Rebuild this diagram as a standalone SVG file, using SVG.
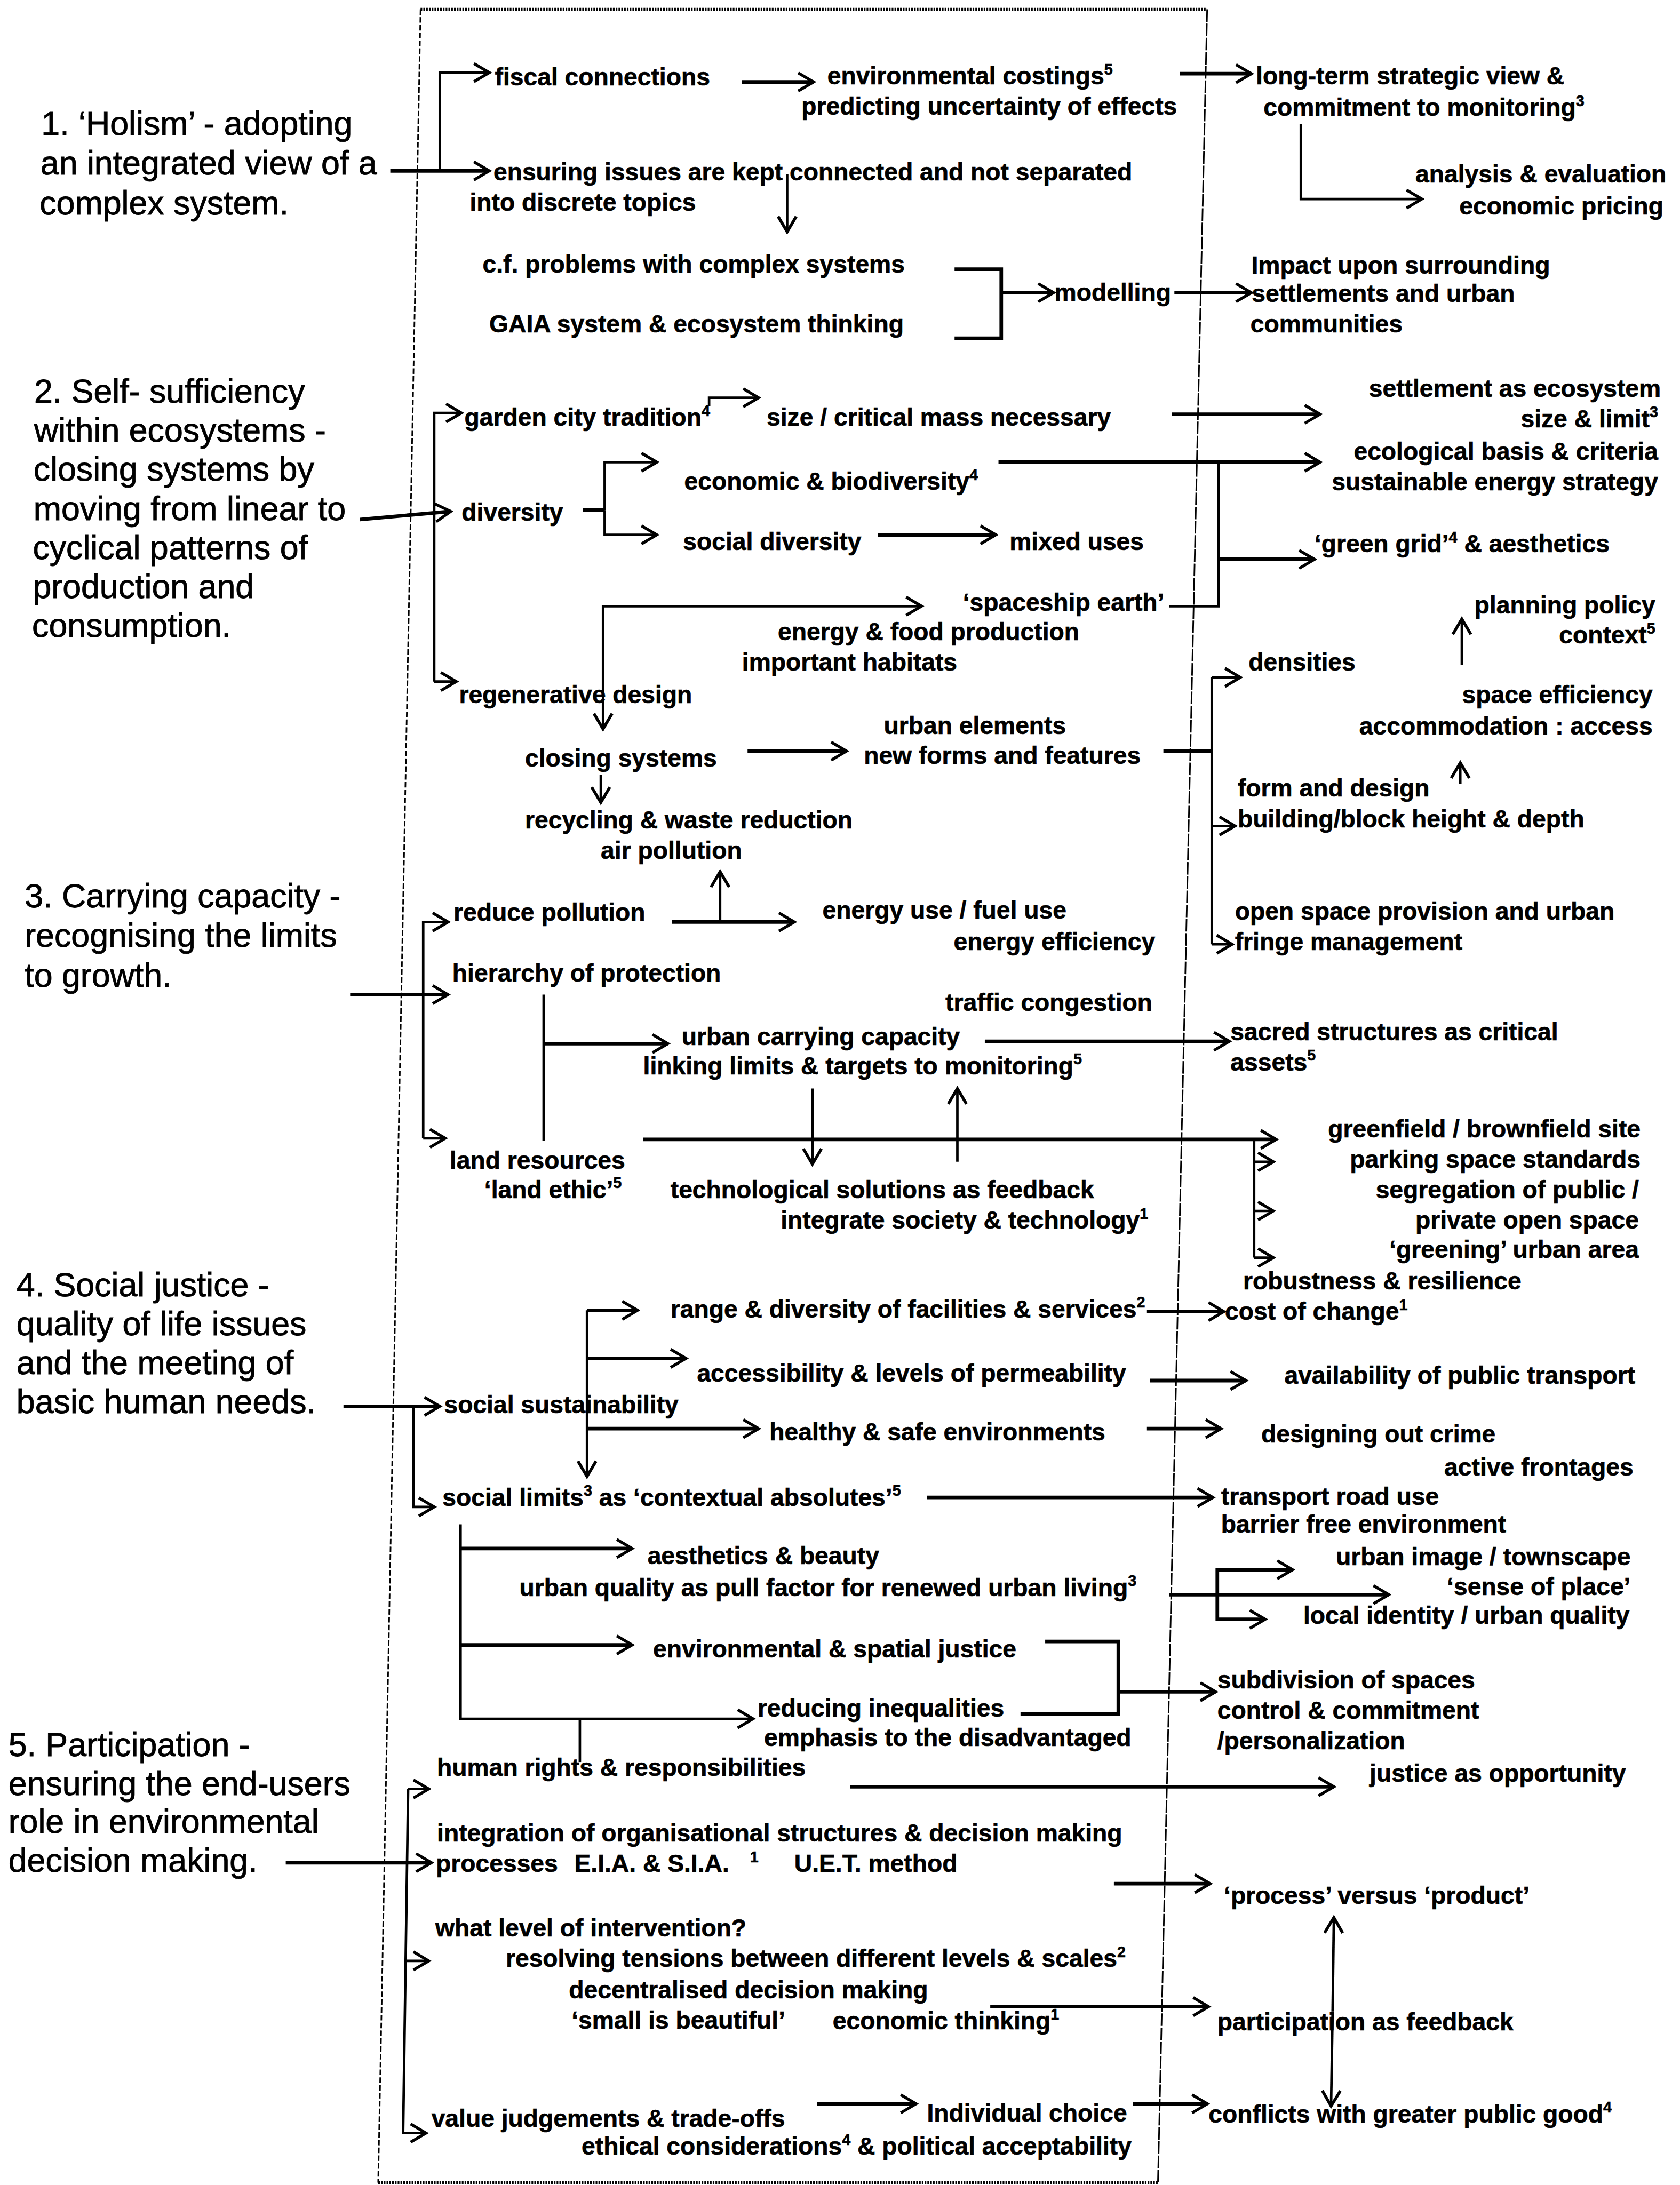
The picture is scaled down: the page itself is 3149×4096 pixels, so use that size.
<svg xmlns="http://www.w3.org/2000/svg" width="3149" height="4096" viewBox="0 0 3149 4096">
<style>
.t{font-family:"Liberation Sans",Arial,Helvetica,sans-serif;font-weight:bold;font-size:17.7px;fill:#000;stroke:#000;stroke-width:0.25}
.lb{font-family:"Liberation Sans",Arial,Helvetica,sans-serif;font-size:24px;fill:#000;stroke:#000;stroke-width:0.35}
.e{text-anchor:end}
.s{font-size:11px}
.k{fill:none;stroke:#000;stroke-width:2.6}
.v{fill:none;stroke:#000;stroke-width:1.8}
.ar{marker-end:url(#a)}
.dot{fill:none;stroke:#000;stroke-width:2.2;stroke-dasharray:1.2 0.8}
.side{fill:none;stroke:#000;stroke-width:1.1;stroke-dasharray:4 1.6}
.side2{fill:none;stroke:#000;stroke-width:1.1;stroke-dasharray:9 1.2}
</style>
<defs>
<marker id="a" viewBox="-13 -8 15 16" refX="0" refY="0" markerWidth="15" markerHeight="16" markerUnits="userSpaceOnUse" orient="auto">
<path d="M-11,-6.5 L0,0 L-11,6.5" fill="none" stroke="#000" stroke-width="2.1"/>
</marker>
</defs>
<rect width="3149" height="4096" fill="#fff"/>
<g transform="scale(2.6128)">

<!-- central frame -->
<g id="frame">
<path class="dot" d="M301.7,6.7 H866"/>
<path class="dot" d="M271.3,1566 H830.7"/>
<path class="side" d="M301.7,6.7 L271.3,1566"/>
<path class="side2" d="M866,6.7 L830.7,1566"/>
</g>

<g id="connectors">
<!-- 1 holism -->
<path class="k ar" d="M280,122.6 H351"/>
<path class="v ar" d="M315.5,122.6 V52.1 H351"/>
<path class="k ar" d="M532.3,58.8 H583.6"/>
<path class="k ar" d="M846.5,52.9 H897.7"/>
<path class="v ar" d="M933.2,89 V142.8 H1020"/>
<path class="v ar" d="M564.7,125 V166.3"/>
<path class="k" d="M684.8,193.1 H718.3 V242.7 H684.8"/>
<path class="k ar" d="M718.3,210 H755.8"/>
<path class="k ar" d="M842.5,210 H897.7"/>
<!-- 2 self-sufficiency -->
<path class="k ar" d="M258.3,372.7 L323.3,366.9"/>
<path class="v ar" d="M311.5,489 V296.3 H331"/>
<path class="v ar" d="M311.5,489 H327.3"/>
<path class="v ar" d="M508.7,291.3 V285.4 H544.2"/>
<path class="k ar" d="M840.5,297.2 H947"/>
<path class="k" d="M418,366 H433.8"/>
<path class="v ar" d="M433.8,366 V331.6 H471.2"/>
<path class="v ar" d="M433.8,366 V383.7 H471.2"/>
<path class="k ar" d="M716.3,331.6 H947"/>
<path class="k ar" d="M629.6,383.7 H714.4"/>
<path class="v" d="M838.6,434.9 H874.1 V331.6"/>
<path class="k ar" d="M874.1,401.3 H943"/>
<path class="v ar" d="M432.6,490 V434.9 H661.1"/>
<path class="v ar" d="M432.6,490 V523"/>
<path class="k ar" d="M536.3,538.9 H607.3"/>
<path class="v ar" d="M431,556 V575.8"/>
<path class="k" d="M834.6,538.9 H869.3"/>
<path class="v" d="M869.3,486 V677.5"/>
<path class="v ar" d="M869.3,486 H889.8"/>
<path class="v ar" d="M869.3,592.6 H885.9"/>
<path class="v ar" d="M869.3,677.5 H883.9"/>
<path class="v ar" d="M1048.7,476.9 V444.1"/>
<path class="v ar" d="M1047.6,562.4 V547.3"/>
<!-- 3 carrying capacity -->
<path class="k ar" d="M251.2,713.6 H321.4"/>
<path class="v ar" d="M303.6,816.7 V661.5 H321.4"/>
<path class="v ar" d="M303.6,816.7 H319.4"/>
<path class="k ar" d="M481.9,661.5 H569.8"/>
<path class="v ar" d="M516.6,661.5 V625.4"/>
<path class="v" d="M390,713.6 V818.4"/>
<path class="k ar" d="M390,748.8 H479.1"/>
<path class="k ar" d="M706.5,747.1 H881.9"/>
<path class="v ar" d="M582.8,781 V835.2"/>
<path class="v ar" d="M686.8,833.5 V781"/>
<path class="k ar" d="M461.4,817.5 H915.5"/>
<path class="v" d="M899.7,817.5 V902.3"/>
<path class="v ar" d="M899.7,833.5 H913.5"/>
<path class="v ar" d="M899.7,868.8 H913.5"/>
<path class="v ar" d="M899.7,902.3 H913.5"/>
<!-- 4 social justice -->
<path class="k ar" d="M246.4,1009 H315.5"/>
<path class="v ar" d="M296.5,1009 V1081.2 H311.5"/>
<path class="v ar" d="M421.1,940.1 V1059.3"/>
<path class="k ar" d="M421.1,940.1 H457.4"/>
<path class="k ar" d="M421.1,974.6 H492.1"/>
<path class="k ar" d="M421.1,1025 H544.2"/>
<path class="k ar" d="M822.8,941 H878"/>
<path class="k ar" d="M824.8,990.5 H893.8"/>
<path class="k ar" d="M822.8,1025 H876"/>
<path class="k ar" d="M665.1,1074.4 H870.1"/>
<path class="v ar" d="M330.4,1093.7 V1233.2 H540.2"/>
<path class="k ar" d="M330.4,1111 H453.5"/>
<path class="k ar" d="M330.4,1180.2 H453.5"/>
<path class="k ar" d="M838.6,1144.1 H996.3"/>
<path class="k ar" d="M873.3,1144.1 V1126.2 H927.3"/>
<path class="k ar" d="M873.3,1144.1 V1161.8 H907.6"/>
<path class="k" d="M749.8,1177.7 H802.3 V1229.8 H732.1"/>
<path class="k ar" d="M802.3,1213.8 H872.1"/>
<path class="v" d="M416,1233.2 V1264.2"/>
<path class="k ar" d="M609.9,1281.9 H956.9"/>
<!-- 5 participation -->
<path class="v ar" d="M292.8,1283.5 H307.6"/>
<path class="v ar" d="M292.8,1283.5 L289.2,1530.4 H305.6"/>
<path class="v ar" d="M291,1406.9 H307.6"/>
<path class="k ar" d="M205,1336.4 H309.5"/>
<path class="k ar" d="M799.1,1351.5 H868.1"/>
<path class="k ar" d="M710.4,1439.7 H867"/>
<path class="v ar" d="M956,1443 L956.9,1375.8"/>
<path class="v ar" d="M956,1443 L954.9,1511"/>
<path class="k ar" d="M586.2,1509.4 H657.2"/>
<path class="k ar" d="M812.9,1509.4 H866.2"/>
</g>

<!-- principle labels, left column -->
<g id="principle-1">
<text class="lb" x="29.6" y="97">1. ‘Holism’ - adopting</text>
<text class="lb" x="29" y="125">an integrated view of a</text>
<text class="lb" x="28.4" y="154">complex system.</text>
</g>
<g id="principle-2">
<text class="lb" x="24.5" y="289">2. Self- sufficiency</text>
<text class="lb" x="24.5" y="317">within ecosystems -</text>
<text class="lb" x="24" y="345">closing systems by</text>
<text class="lb" x="24" y="373">moving from linear to</text>
<text class="lb" x="23.5" y="401">cyclical patterns of</text>
<text class="lb" x="23.5" y="429">production and</text>
<text class="lb" x="23" y="457">consumption.</text>
</g>
<g id="principle-3">
<text class="lb" x="17.7" y="651">3. Carrying capacity -</text>
<text class="lb" x="17.7" y="679.5">recognising the limits</text>
<text class="lb" x="17.7" y="708">to growth.</text>
</g>
<g id="principle-4">
<text class="lb" x="11.8" y="930">4. Social justice -</text>
<text class="lb" x="11.8" y="958">quality of life issues</text>
<text class="lb" x="11.8" y="986">and the meeting of</text>
<text class="lb" x="11.8" y="1014">basic human needs.</text>
</g>
<g id="principle-5">
<text class="lb" x="6" y="1260">5. Participation -</text>
<text class="lb" x="6" y="1288">ensuring the end-users</text>
<text class="lb" x="6" y="1315">role in environmental</text>
<text class="lb" x="6" y="1343">decision making.</text>
</g>

<!-- 1. holism -->
<g id="fiscal"><text class="t" x="355" y="61.3">fiscal connections</text></g>
<g id="costings">
<text class="t" x="593.5" y="60.5">environmental costings<tspan class="s" dy="-7">5</tspan></text>
<text class="t" x="575" y="82.3">predicting uncertainty of effects</text>
</g>
<g id="long-term">
<text class="t" x="901" y="60.5">long-term strategic view &amp;</text>
<text class="t" x="906.4" y="83">commitment to monitoring<tspan class="s" dy="-7">3</tspan></text>
</g>
<g id="analysis">
<text class="t e" x="1195.4" y="131">analysis &amp; evaluation</text>
<text class="t e" x="1193.4" y="153.7">economic pricing</text>
</g>
<g id="connected">
<text class="t" x="354" y="129.3">ensuring issues are kept connected and not separated</text>
<text class="t" x="337" y="151">into discrete topics</text>
</g>
<g id="complex"><text class="t" x="346.2" y="195.7">c.f. problems with complex systems</text></g>
<g id="gaia"><text class="t" x="351" y="238.5">GAIA system &amp; ecosystem thinking</text></g>
<g id="modelling"><text class="t" x="756.5" y="215.8">modelling</text></g>
<g id="impact">
<text class="t" x="897.7" y="196.5">Impact upon surrounding</text>
<text class="t" x="898" y="216.7">settlements and urban</text>
<text class="t" x="897" y="238.5">communities</text>
</g>

<!-- 2. self-sufficiency -->
<g id="garden-city"><text class="t" x="333.2" y="305.5">garden city tradition<tspan class="s" dy="-7">4</tspan></text></g>
<g id="critical-mass"><text class="t" x="550" y="305.5">size / critical mass necessary</text></g>
<g id="ecosystem">
<text class="t e" x="1191.5" y="284.6">settlement as ecosystem</text>
<text class="t e" x="1189.5" y="306.4">size &amp; limit<tspan class="s" dy="-7">3</tspan></text>
<text class="t e" x="1189.5" y="330">ecological basis &amp; criteria</text>
<text class="t e" x="1189.5" y="351.7">sustainable energy strategy</text>
</g>
<g id="diversity"><text class="t" x="331.2" y="373.6">diversity</text></g>
<g id="biodiversity"><text class="t" x="490.9" y="351.5">economic &amp; biodiversity<tspan class="s" dy="-7">4</tspan></text></g>
<g id="social-diversity"><text class="t" x="490" y="394.6">social diversity</text></g>
<g id="mixed-uses"><text class="t" x="724.2" y="394.6">mixed uses</text></g>
<g id="green-grid"><text class="t" x="943" y="396.3">‘green grid’<tspan class="s" dy="-7">4</tspan><tspan dy="7"> &amp; aesthetics</tspan></text></g>
<g id="spaceship">
<text class="t" x="690.7" y="438.2">‘spaceship earth’</text>
<text class="t" x="558" y="459.2">energy &amp; food production</text>
<text class="t" x="532.3" y="481">important habitats</text>
</g>
<g id="regenerative"><text class="t" x="329.3" y="504.6">regenerative design</text></g>
<g id="planning-policy">
<text class="t e" x="1187.5" y="440">planning policy</text>
<text class="t e" x="1187.5" y="461.7">context<tspan class="s" dy="-7">5</tspan></text>
</g>
<g id="densities"><text class="t" x="895.7" y="481">densities</text></g>
<g id="space-efficiency">
<text class="t e" x="1185.6" y="504.6">space efficiency</text>
<text class="t e" x="1185.6" y="527">accommodation : access</text>
</g>
<g id="closing"><text class="t" x="376.6" y="549.8">closing systems</text></g>
<g id="urban-elements">
<text class="t" x="634" y="526.5">urban elements</text>
<text class="t" x="619.7" y="548.1">new forms and features</text>
</g>
<g id="form-design">
<text class="t" x="887.9" y="571.6">form and design</text>
<text class="t" x="887.9" y="593.5">building/block height &amp; depth</text>
</g>
<g id="recycling">
<text class="t" x="376.6" y="594.3">recycling &amp; waste reduction</text>
<text class="t" x="431" y="616.2">air pollution</text>
</g>
<g id="open-space">
<text class="t" x="885.9" y="659.8">open space provision and urban</text>
<text class="t" x="885.9" y="681.7">fringe management</text>
</g>

<!-- 3. carrying capacity -->
<g id="reduce-pollution"><text class="t" x="325.3" y="660.7">reduce pollution</text></g>
<g id="energy-use">
<text class="t" x="590" y="659">energy use / fuel use</text>
<text class="t e" x="828.7" y="681.7">energy efficiency</text>
</g>
<g id="hierarchy"><text class="t" x="324.5" y="704.3">hierarchy of protection</text></g>
<g id="traffic"><text class="t e" x="826.7" y="725.3">traffic congestion</text></g>
<g id="urban-capacity">
<text class="t" x="489" y="749.7">urban carrying capacity</text>
<text class="t" x="461.4" y="770.7">linking limits &amp; targets to monitoring<tspan class="s" dy="-7">5</tspan></text>
</g>
<g id="sacred">
<text class="t" x="882.7" y="746.3">sacred structures as critical</text>
<text class="t" x="882.7" y="768">assets<tspan class="s" dy="-7">5</tspan></text>
</g>
<g id="land-resources">
<text class="t" x="322.6" y="838.5">land resources</text>
<text class="t e" x="446" y="859.5">‘land ethic’<tspan class="s" dy="-7">5</tspan></text>
</g>
<g id="technology">
<text class="t" x="481" y="859.5">technological solutions as feedback</text>
<text class="t" x="560" y="881.4">integrate society &amp; technology<tspan class="s" dy="-7">1</tspan></text>
</g>
<g id="sites">
<text class="t e" x="1176.9" y="815.8">greenfield / brownfield site</text>
<text class="t e" x="1176.9" y="837.7">parking space standards</text>
<text class="t e" x="1175.7" y="859.5">segregation of public /</text>
<text class="t e" x="1175.7" y="881.4">private open space</text>
<text class="t e" x="1175.7" y="902.3">‘greening’ urban area</text>
<text class="t" x="891.8" y="925">robustness &amp; resilience</text>
</g>

<!-- 4. social justice -->
<g id="facilities"><text class="t" x="481" y="945.2">range &amp; diversity of facilities &amp; services<tspan class="s" dy="-7">2</tspan></text></g>
<g id="cost-of-change"><text class="t" x="878.8" y="946.9">cost of change<tspan class="s" dy="-7">1</tspan></text></g>
<g id="permeability"><text class="t" x="500" y="991.4">accessibility &amp; levels of permeability</text></g>
<g id="public-transport"><text class="t" x="921.4" y="993">availability of public transport</text></g>
<g id="social-sustainability"><text class="t" x="318.6" y="1014">social sustainability</text></g>
<g id="healthy"><text class="t" x="552" y="1033.3">healthy &amp; safe environments</text></g>
<g id="crime">
<text class="t" x="904.8" y="1035">designing out crime</text>
<text class="t e" x="1171.8" y="1058.5">active frontages</text>
</g>
<g id="social-limits"><text class="t" x="317.4" y="1080.3">social limits<tspan class="s" dy="-7">3</tspan><tspan dy="7"> as ‘contextual absolutes’</tspan><tspan class="s" dy="-7">5</tspan></text></g>
<g id="transport">
<text class="t" x="876" y="1079.5">transport road use</text>
<text class="t" x="876" y="1099.6">barrier free environment</text>
</g>
<g id="aesthetics">
<text class="t" x="464.5" y="1122.3">aesthetics &amp; beauty</text>
<text class="t" x="372.6" y="1145">urban quality as pull factor for renewed urban living<tspan class="s" dy="-7">3</tspan></text>
</g>
<g id="townscape">
<text class="t e" x="1169.8" y="1123.1">urban image / townscape</text>
<text class="t e" x="1169.8" y="1144.2">‘sense of place’</text>
<text class="t e" x="1169" y="1165.1">local identity / urban quality</text>
</g>
<g id="spatial-justice"><text class="t" x="468.5" y="1189">environmental &amp; spatial justice</text></g>
<g id="inequalities">
<text class="t" x="543.4" y="1231.5">reducing inequalities</text>
<text class="t" x="548.1" y="1252.5">emphasis to the disadvantaged</text>
</g>
<g id="subdivision">
<text class="t" x="873.3" y="1211.3">subdivision of spaces</text>
<text class="t" x="873.3" y="1233.2">control &amp; commitment</text>
<text class="t" x="873.3" y="1255">/personalization</text>
</g>
<g id="human-rights"><text class="t" x="313.5" y="1274.3">human rights &amp; responsibilities</text></g>
<g id="justice-opportunity"><text class="t" x="982.5" y="1278.5">justice as opportunity</text></g>

<!-- 5. participation -->
<g id="organisational">
<text class="t" x="313.5" y="1321.3">integration of organisational structures &amp; decision making</text>
<text class="t" x="312.7" y="1343.1">processes<tspan x="412">E.I.A. &amp; S.I.A.</tspan><tspan class="s" x="538" dy="-7">1</tspan><tspan x="569.8" dy="7">U.E.T. method</tspan></text>
</g>
<g id="process-product"><text class="t" x="878" y="1365.8">‘process’ versus ‘product’</text></g>
<g id="intervention">
<text class="t" x="312.3" y="1389.3">what level of intervention?</text>
<text class="t" x="362.8" y="1411.1">resolving tensions between different levels &amp; scales<tspan class="s" dy="-7">2</tspan></text>
<text class="t" x="408.1" y="1433.8">decentralised decision making</text>
<text class="t" x="410" y="1455.6">‘small is beautiful’</text>
<text class="t" x="597.4" y="1456">economic thinking<tspan class="s" dy="-7">1</tspan></text>
</g>
<g id="feedback"><text class="t" x="873.3" y="1456.5">participation as feedback</text></g>
<g id="value-judgements">
<text class="t" x="309.5" y="1526">value judgements &amp; trade-offs</text>
<text class="t" x="417.2" y="1546">ethical considerations<tspan class="s" dy="-7">4</tspan><tspan dy="7"> &amp; political acceptability</tspan></text>
</g>
<g id="individual-choice"><text class="t" x="665" y="1522">Individual choice</text></g>
<g id="public-good"><text class="t" x="867" y="1522.8">conflicts with greater public good<tspan class="s" dy="-7">4</tspan></text></g>
</g>
</svg>
